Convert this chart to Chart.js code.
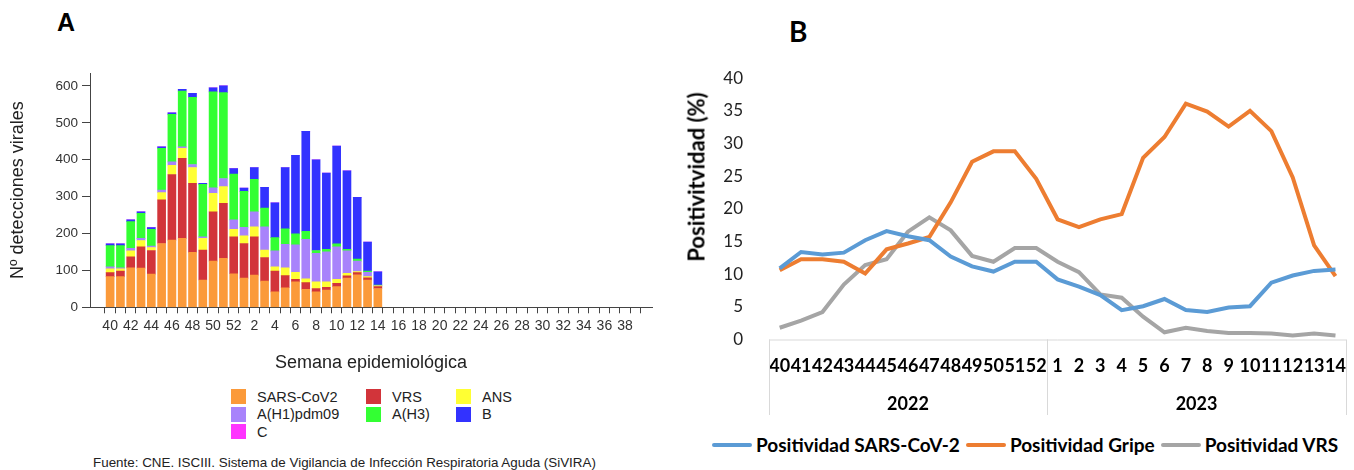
<!DOCTYPE html>
<html lang="es">
<head>
<meta charset="utf-8">
<script src="https://cdn.jsdelivr.net/npm/chart.js@4.4.1/dist/chart.umd.min.js"></script>
<style>
  html, body { margin: 0; padding: 0; background: #fff; }
  body { width: 1354px; height: 470px; position: relative; overflow: hidden; font-family: "Liberation Sans", Arial, sans-serif; }
  canvas { position: absolute; }
  #chartA { left: 0; top: 60px; }
  #chartB { left: 680px; top: 50px; }
  .tag { position: absolute; font-weight: bold; color: #000; }
  #tagA { left: 57px; top: 8px; font-size: 25px; }
  #tagB { left: 789px; top: 14px; font-size: 28px; font-family: Lato, sans-serif; }
  #legendA { position: absolute; left: 231px; top: 389px; display: grid; grid-template-columns: 135px 90px auto; row-gap: 2.7px; font-size: 14.5px; color: #222; }
  #legendA .item { display: flex; align-items: center; height: 15px; }
  #legendA .box { width: 15px; height: 15px; margin-right: 11px; }
  #source { position: absolute; left: 93px; top: 455px; font-size: 13.4px; color: #222; white-space: nowrap; }
  #titleYB { position: absolute; left: 696px; top: 177px; transform: translate(-50%, -50%) rotate(-90deg); font-family: Lato, sans-serif; font-weight: bold; font-size: 22px; color: #000; white-space: nowrap; }
  #legendB { position: absolute; left: 712px; top: 433px; display: flex; align-items: center; font-family: Lato, sans-serif; font-weight: bold; font-size: 19px; color: #000; white-space: nowrap; }
  #legendB .line { width: 40px; height: 4px; border-radius: 2px; margin-right: 4px; }
  #legendB .label { margin-right: 6px; }
</style>
</head>
<body>
<div class="tag" id="tagA">A</div>
<div class="tag" id="tagB">B</div>
<canvas id="chartA" width="680" height="320"></canvas>
<canvas id="chartB" width="674" height="375"></canvas>
<div id="titleYB">Positivitvidad (%)</div>
<div id="legendA"></div>
<div id="source">Fuente: CNE. ISCIII. Sistema de Vigilancia de Infección Respiratoria Aguda (SiVIRA)</div>
<div id="legendB"></div>
<script>
// Panel A: detecciones por semana (temporada 40/2022 - 39/2023)
const weeksA = ['40', '41', '42', '43', '44', '45', '46', '47', '48', '49', '50', '51', '52',
  '1', '2', '3', '4', '5', '6', '7', '8', '9', '10', '11', '12', '13', '14', '15', '16', '17', '18', '19',
  '20', '21', '22', '23', '24', '25', '26', '27', '28', '29', '30', '31', '32', '33', '34', '35', '36',
  '37', '38', '39'];

const sarsCov2 = [83, 83, 107, 106, 90, 173, 182, 187, 149, 74, 125, 133, 91,
  79, 87, 71, 42, 53, 69, 49, 42, 47, 56, 79, 88, 74, 51];
const vrsA = [11, 15, 30, 58, 64, 118, 178, 217, 187, 81, 134, 149, 100,
  94, 104, 64, 56, 33, 7, 18, 9, 7, 9, 6, 6, 6, 5];
const ans = [10, 6, 16, 17, 8, 20, 25, 27, 43, 32, 50, 45, 20,
  21, 27, 20, 12, 21, 19, 10, 18, 15, 11, 7, 3, 3, 2];
const h1pdm09 = [6, 3, 7, 6, 4, 7, 9, 4, 8, 4, 15, 22, 26,
  23, 41, 63, 43, 64, 74, 107, 77, 81, 88, 61, 28, 12, 1];
const h3 = [57, 60, 72, 68, 45, 113, 129, 151, 182, 142, 260, 233, 124,
  97, 88, 51, 36, 42, 30, 22, 8, 7, 8, 4, 6, 3, 1];
const gripeB = [5, 5, 5, 4, 5, 4, 4, 5, 11, 3, 11, 18, 15,
  9, 32, 56, 94, 166, 213, 271, 246, 207, 265, 213, 167, 79, 36];
const gripeC = [0, 0, 0, 0, 0, 0, 0, 0, 0, 0, 0, 0, 0,
  0, 0, 0, 0, 0, 0, 0, 0, 0, 0, 0, 0, 0, 0];

const labelsA = ['SARS-CoV2', 'VRS', 'ANS', 'A(H1)pdm09', 'A(H3)', 'B', 'C'];
const valuesA = [sarsCov2, vrsA, ans, h1pdm09, h3, gripeB, gripeC];
const coloursA = ['#FB9A3A', '#D2343A', '#FFFF33', '#A883FB', '#33FF33', '#3232FF', '#FF33FF'];

// Panel B: positividad (%) por semana
const weeksB = ['40', '41', '42', '43', '44', '45', '46', '47', '48', '49', '50', '51', '52',
  '1', '2', '3', '4', '5', '6', '7', '8', '9', '10', '11', '12', '13', '14'];
const yearsB = ['2022', '2023'];
const posSars = [10.9, 13.4, 13.0, 13.3, 15.2, 16.6, 15.8, 15.2, 12.7, 11.2, 10.4, 11.9, 11.9,
  9.2, 8.1, 6.8, 4.5, 5.1, 6.2, 4.5, 4.2, 4.9, 5.1, 8.7, 9.8, 10.5, 10.7];
const posGripe = [10.6, 12.3, 12.3, 11.9, 10.1, 13.8, 14.7, 15.7, 21.0, 27.2, 28.8, 28.8, 24.6,
  18.4, 17.2, 18.4, 19.2, 27.8, 31.0, 36.1, 34.9, 32.6, 35.0, 31.9, 24.8, 14.4, 9.7];
const posVrs = [1.8, 2.9, 4.2, 8.4, 11.4, 12.3, 16.5, 18.7, 16.7, 12.8, 11.9, 14.0, 14.0,
  11.9, 10.3, 6.9, 6.4, 3.5, 1.1, 1.8, 1.3, 1.0, 1.0, 0.9, 0.6, 0.9, 0.6];

const labelsB = ['Positividad SARS-CoV-2', 'Positividad Gripe', 'Positividad VRS'];
const valuesB = [posSars, posGripe, posVrs];
const coloursB = ['#5B9BD5', '#ED7D31', '#A5A5A5'];

const axisGrey = '#444';

// ---------- Panel A ----------
new Chart(document.getElementById('chartA').getContext('2d'), {
  type: 'bar',
  data: {
    datasets: valuesA.map((vals, k) => ({
      label: labelsA[k],
      data: vals.map((v, i) => ({ x: i, y: v })),
      backgroundColor: coloursA[k],
      borderWidth: 0,
      barThickness: 8,
    })),
  },
  options: {
    responsive: false,
    animation: false,
    layout: { padding: { top: 13, right: 28, bottom: 6, left: 0 } },
    plugins: { legend: { display: false }, tooltip: { enabled: false } },
    scales: {
      x: {
        type: 'linear',
        stacked: true,
        min: -1.43,
        max: 52.1,
        afterBuildTicks: (s) => { s.ticks = weeksA.map((w, i) => ({ value: i })); },
        afterFit: (s) => { s.height = 66.7; },
        ticks: {
          autoSkip: false,
          maxRotation: 0,
          padding: 4,
          color: '#333',
          font: { size: 14 },
          callback: (v, i) => (i % 2 === 0 ? weeksA[i] : ''),
        },
        grid: { drawOnChartArea: false, tickLength: 6, color: axisGrey },
        border: { color: axisGrey },
        title: { display: true, text: 'Semana epidemiológica', color: '#222', font: { size: 18 }, padding: 0 },
      },
      y: {
        stacked: true,
        min: 0,
        max: 635,
        afterFit: (s) => { s.width = 90; },
        ticks: { stepSize: 100, includeBounds: false, padding: 4, color: '#333', font: { size: 13.5 } },
        grid: { drawOnChartArea: false, tickLength: 8, color: axisGrey },
        border: { color: axisGrey },
        title: { display: true, text: 'Nº detecciones virales', color: '#222', font: { size: 18 }, padding: { top: 7, bottom: 0 } },
      },
    },
  },
});

// leyenda A en tres columnas
const legendA = document.getElementById('legendA');
labelsA.forEach((name, k) => {
  const item = document.createElement('div');
  item.className = 'item';
  item.innerHTML = '<span class="box" style="background:' + coloursA[k] + '"></span><span>' + name + '</span>';
  legendA.appendChild(item);
});

// ---------- Panel B ----------
// separadores y etiquetas de año bajo el eje de semanas
const yearGroups = {
  id: 'yearGroups',
  afterDraw(chart) {
    const { ctx, chartArea, scales: { x } } = chart;
    const half = (x.getPixelForValue(1) - x.getPixelForValue(0)) / 2;
    const groups = [];
    let start = 0;
    weeksB.forEach((w, i) => {
      if (i > 0 && Number(w) < Number(weeksB[i - 1])) {
        groups.push([start, i - 1]);
        start = i;
      }
    });
    groups.push([start, weeksB.length - 1]);

    ctx.save();
    ctx.strokeStyle = '#d9d9d9';
    ctx.lineWidth = 1;
    ctx.beginPath();
    ctx.moveTo(chartArea.left, chartArea.bottom + 0.5);
    ctx.lineTo(chartArea.right, chartArea.bottom + 0.5);
    groups.forEach((g) => {
      [x.getPixelForValue(g[0]) - half, x.getPixelForValue(g[1]) + half].forEach((px) => {
        ctx.moveTo(Math.round(px) + 0.5, chartArea.bottom);
        ctx.lineTo(Math.round(px) + 0.5, chartArea.bottom + 75.5);
      });
    });
    ctx.stroke();

    ctx.fillStyle = '#000';
    ctx.font = 'bold 18px Lato, sans-serif';
    ctx.textAlign = 'center';
    ctx.textBaseline = 'middle';
    groups.forEach((g, k) => {
      const mid = (x.getPixelForValue(g[0]) + x.getPixelForValue(g[1])) / 2;
      ctx.fillText(yearsB[k], mid, chartArea.bottom + 64.5);
    });
    ctx.restore();
  },
};

new Chart(document.getElementById('chartB').getContext('2d'), {
  type: 'line',
  data: {
    labels: weeksB,
    datasets: valuesB.map((vals, k) => ({
      label: labelsB[k],
      data: vals,
      borderColor: coloursB[k],
      backgroundColor: coloursB[k],
      borderWidth: 4,
      pointRadius: 0,
      tension: 0,
      fill: false,
    })),
  },
  options: {
    responsive: false,
    animation: false,
    layout: { padding: { top: 27, right: 4, bottom: 0, left: 0 } },
    plugins: { legend: { display: false }, tooltip: { enabled: false } },
    scales: {
      x: {
        offset: true,
        afterFit: (s) => { s.height = 85.5; },
        grid: { display: false },
        border: { display: false },
        ticks: {
          autoSkip: false,
          maxRotation: 0,
          padding: 8,
          color: '#000',
          font: { family: 'Lato', weight: 'bold', size: 18 },
        },
      },
      y: {
        min: 0,
        max: 40,
        afterFit: (s) => { s.width = 89; },
        grid: { display: false },
        border: { display: false },
        ticks: { stepSize: 5, padding: 18, color: '#222', font: { family: 'Lato', size: 17 } },
      },
    },
  },
  plugins: [yearGroups],
});

const legendB = document.getElementById('legendB');
labelsB.forEach((name, k) => {
  legendB.insertAdjacentHTML('beforeend',
    '<span class="line" style="background:' + coloursB[k] + '"></span><span class="label">' + name + '</span>');
});
</script>
</body>
</html>
